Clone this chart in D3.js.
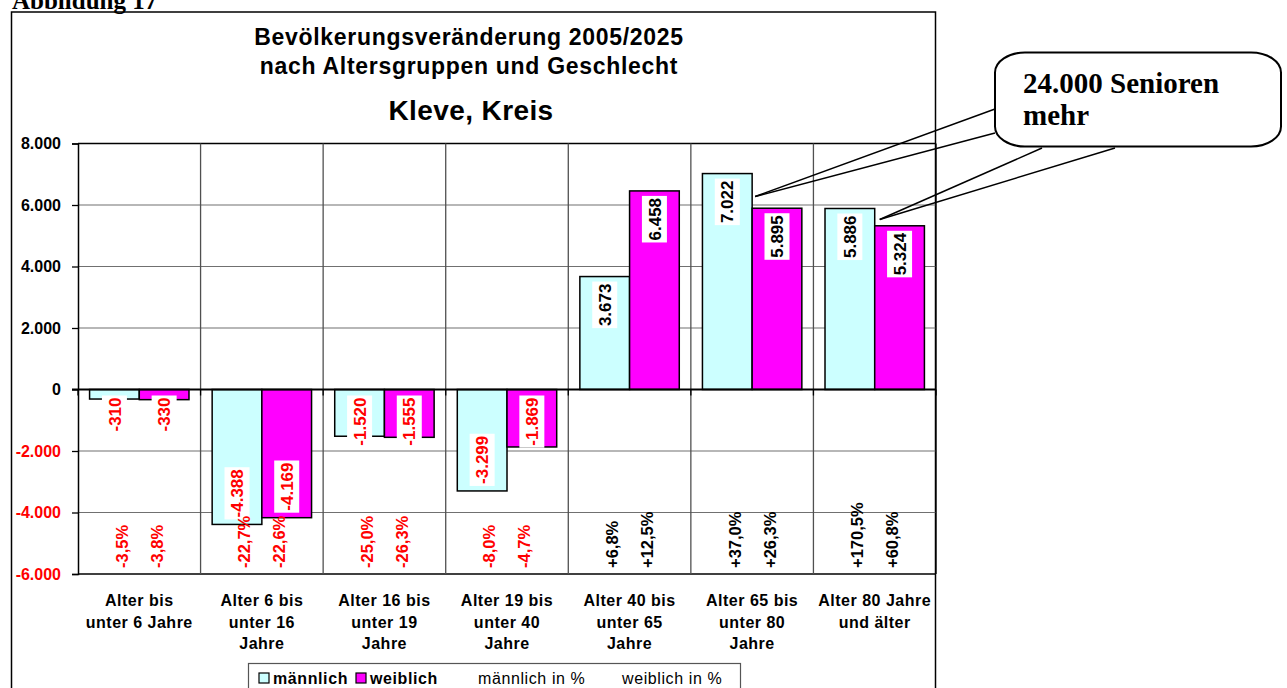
<html>
<head>
<meta charset="utf-8">
<script src="https://d3js.org/d3.v7.min.js"></script>
<style>
  body {margin:0; background:white;}
  text {font-family: "Liberation Sans", Arial, sans-serif;}
</style>
</head>
<body>
<svg id="chart" width="1287" height="688"></svg>
<script>
// data
var categories = [["Alter bis", "unter 6 Jahre"], ["Alter 6 bis", "unter 16", "Jahre"], ["Alter 16 bis", "unter 19", "Jahre"],
  ["Alter 19 bis", "unter 40", "Jahre"], ["Alter 40 bis", "unter 65", "Jahre"], ["Alter 65 bis", "unter 80", "Jahre"], ["Alter 80 Jahre", "und älter"]];
var male = [-310, -4388, -1520, -3299, 3673, 7022, 5886];
var female = [-330, -4169, -1555, -1869, 6458, 5895, 5324];
var malePct = [-3.5, -22.7, -25.0, -8.0, 6.8, 37.0, 170.5];
var femalePct = [-3.8, -22.6, -26.3, -4.7, 12.5, 26.3, 60.8];
var yTicks = [-6000, -4000, -2000, 0, 2000, 4000, 6000, 8000];
var legendNames = ["männlich", "weiblich", "männlich in %", "weiblich in %"];
var colors = {m: "#CCFFFF", w: "#FF00FF"};

var svg = d3.select("#chart");
var de = d3.formatLocale({decimal: ",", thousands: ".", grouping: [3], currency: ["", "€"], minus: "-"});
var fmtNum = de.format(",d");
var fmtPct = function(v) { return (v > 0 ? "+" : "") + de.format(".1f")(v) + "%"; };

var left = 78, right = 936;
var x0 = d3.scaleBand().domain(d3.range(categories.length)).range([left, right]).padding(0);
var x1 = d3.scaleBand().domain(["m", "w"]).range([0, x0.bandwidth()]).paddingInner(0).paddingOuter(0.233);
var y = d3.scaleLinear().domain([-6000, 8000]).range([574, 143.5]);

// outer frame + figure caption
svg.append("text").attr("x", 12).attr("y", 9)
  .style("font-family", "'Liberation Serif', 'Times New Roman', serif")
  .style("font-weight", "bold").style("font-size", "25px").text("Abbildung 17");
svg.append("rect").attr("x", 11.5).attr("y", 12).attr("width", 924).attr("height", 700)
  .attr("fill", "none").attr("stroke", "black").attr("stroke-width", 1.5);

// titles
var cx = 469;
svg.append("text").attr("x", cx).attr("y", 45).attr("text-anchor", "middle")
  .style("font-weight", "bold").style("font-size", "23px").style("letter-spacing", "0.7px")
  .text("Bevölkerungsveränderung 2005/2025");
svg.append("text").attr("x", cx).attr("y", 74).attr("text-anchor", "middle")
  .style("font-weight", "bold").style("font-size", "23px").style("letter-spacing", "0.7px")
  .text("nach Altersgruppen und Geschlecht");
svg.append("text").attr("x", cx + 2).attr("y", 120).attr("text-anchor", "middle")
  .style("font-weight", "bold").style("font-size", "28px").style("letter-spacing", "0.4px")
  .text("Kleve, Kreis");

// grid
svg.append("g").selectAll("line").data(yTicks.filter(function(d) { return d != 0; }))
  .enter().append("line")
  .attr("x1", left).attr("x2", right)
  .attr("y1", function(d) { return y(d); }).attr("y2", function(d) { return y(d); })
  .attr("stroke", function(d) { return (d == 8000 || d == -6000) ? "black" : "#707070"; })
  .attr("stroke-width", function(d) { return (d == 8000 || d == -6000) ? 1.5 : 1.2; });
svg.append("g").selectAll("line").data(d3.range(1, categories.length + 1))
  .enter().append("line")
  .attr("x1", function(d) { return x0(d) || right; }).attr("x2", function(d) { return x0(d) || right; })
  .attr("y1", y(8000)).attr("y2", y(-6000))
  .attr("stroke", function(d) { return d == categories.length ? "black" : "#505050"; })
  .attr("stroke-width", 1.3);

// y axis
var yAxis = svg.append("g").attr("transform", "translate(" + left + ",0)")
  .call(d3.axisLeft(y).tickValues(yTicks).tickSize(6).tickPadding(11).tickFormat(fmtNum));
yAxis.select(".domain").attr("stroke-width", 1.5);
yAxis.selectAll(".tick line").attr("stroke-width", 1.3);
yAxis.selectAll(".tick text")
  .style("font-family", "'Liberation Sans', Arial, sans-serif")
  .style("font-size", "16px").style("font-weight", "bold")
  .attr("fill", function(d) { return d < 0 ? "#FF0000" : "black"; });

// bars
var groups = svg.append("g").selectAll("g").data(categories).enter().append("g")
  .attr("transform", function(d, i) { return "translate(" + x0(i) + ",0)"; });
groups.selectAll("rect").data(function(d, i) { return [{k: "m", v: male[i]}, {k: "w", v: female[i]}]; })
  .enter().append("rect")
  .attr("x", function(d) { return x1(d.k); })
  .attr("width", x1.bandwidth())
  .attr("y", function(d) { return Math.min(y(d.v), y(0)); })
  .attr("height", function(d) { return Math.abs(y(d.v) - y(0)); })
  .attr("fill", function(d) { return colors[d.k]; })
  .attr("stroke", "black").attr("stroke-width", 1.5);

// zero line + category ticks
svg.append("line").attr("x1", left - 6).attr("x2", right).attr("y1", y(0)).attr("y2", y(0))
  .attr("stroke", "black").attr("stroke-width", 2);
svg.append("g").selectAll("line").data(d3.range(0, categories.length + 1)).enter().append("line")
  .attr("x1", function(d) { return x0(d) || right; }).attr("x2", function(d) { return x0(d) || right; })
  .attr("y1", y(0)).attr("y2", y(0) + 6).attr("stroke", "black").attr("stroke-width", 1.3);

// value labels (rotated, white box)
groups.each(function(c, i) {
  var g = d3.select(this);
  [{k: "m", v: male[i]}, {k: "w", v: female[i]}].forEach(function(d) {
    var bx = x1(d.k) + x1.bandwidth() / 2;
    var lg = g.append("g");
    var box = lg.append("rect").attr("fill", "white");
    var t = lg.append("text").attr("text-anchor", "start").attr("dy", "0.36em")
      .style("font-size", "17px").style("font-weight", "bold")
      .attr("fill", d.v < 0 ? "#FF0000" : "black").text(fmtNum(d.v));
    var len = t.node().getComputedTextLength();
    var bottom;
    if (d.v >= 0) bottom = y(d.v) + 5 + len + 4;
    else bottom = Math.max(y(d.v) - 5, y(0) + 6 + len + 4);
    box.attr("x", 0).attr("y", -12.5).attr("width", len + 4).attr("height", 25);
    t.attr("x", 2);
    lg.attr("transform", "translate(" + bx + "," + bottom + ") rotate(-90)");
  });
});

// percentage labels
groups.each(function(c, i) {
  var g = d3.select(this);
  [{o: -17.5, v: malePct[i]}, {o: 17.5, v: femalePct[i]}].forEach(function(d) {
    g.append("text")
      .attr("transform", "translate(" + (x0.bandwidth() / 2 + d.o) + "," + (y(-6000) - 6) + ") rotate(-90)")
      .attr("dy", "0.36em").attr("text-anchor", "start")
      .style("font-size", "16.5px").style("font-weight", "bold")
      .attr("fill", d.v < 0 ? "#FF0000" : "black").text(fmtPct(d.v));
  });
});

// category labels
groups.each(function(c, i) {
  var t = d3.select(this).append("text").attr("text-anchor", "middle")
    .style("font-size", "16px").style("font-weight", "bold").style("letter-spacing", "0.5px");
  c.forEach(function(line, j) {
    t.append("tspan").attr("x", x0.bandwidth() / 2).attr("y", 606 + j * 21.5).text(line);
  });
});

// legend
var lgd = svg.append("g");
lgd.append("rect").attr("x", 248.5).attr("y", 663.5).attr("width", 492).attr("height", 30)
  .attr("fill", "white").attr("stroke", "#555").attr("stroke-width", 1.2);
var legendX = [273, 370, 478, 622];
legendNames.forEach(function(n, i) {
  if (i < 2) {
    lgd.append("rect").attr("x", legendX[i] - 14).attr("y", 673).attr("width", 10).attr("height", 10)
      .attr("fill", i == 0 ? colors.m : colors.w).attr("stroke", "black").attr("stroke-width", 1.2);
  }
  lgd.append("text").attr("x", legendX[i]).attr("y", 683.5)
    .style("font-size", "16px").style("font-weight", i < 2 ? "bold" : "normal")
    .style("letter-spacing", "0.6px").text(n);
});

// callout
var ann = svg.append("g");
var pA = [x0(5) + x1("m") + x1.bandwidth() + 3, y(male[5]) + 23];
var pB = [x0(6) + x1("m") + x1.bandwidth() + 5, y(male[6]) + 11];
[[pA, [995, 109]], [pA, [995, 133]], [pB, [1042, 148]], [pB, [1115, 148]]].forEach(function(l) {
  ann.append("line").attr("x1", l[0][0]).attr("y1", l[0][1]).attr("x2", l[1][0]).attr("y2", l[1][1])
    .attr("stroke", "black").attr("stroke-width", 1.5);
});
ann.append("rect").attr("x", 995).attr("y", 52.5).attr("width", 286).attr("height", 94)
  .attr("rx", 30).attr("ry", 20).attr("fill", "white").attr("stroke", "black").attr("stroke-width", 2);
var ct = ann.append("text").style("font-family", "'Liberation Serif', 'Times New Roman', serif")
  .style("font-weight", "bold").style("font-size", "29px");
ct.append("tspan").attr("x", 1023).attr("y", 93).text("24.000 Senioren");
ct.append("tspan").attr("x", 1023).attr("y", 125).text("mehr");
</script>
</body>
</html>
